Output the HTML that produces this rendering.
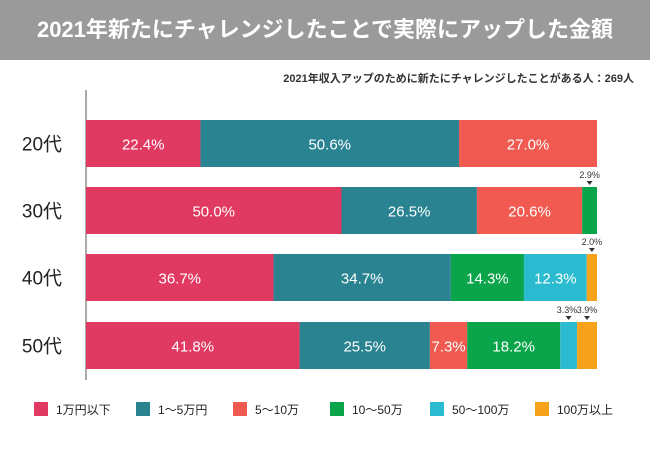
<!DOCTYPE html>
<html><head><meta charset="utf-8"><style>
body{margin:0;width:650px;height:450px;background:#fff;font-family:"Liberation Sans","Noto Sans CJK JP",sans-serif;overflow:hidden}
#hdr{position:absolute;left:0;top:0;width:650px;height:60px;background:#9a9a9a;color:#fff;font-weight:bold;font-size:22px;text-align:center;line-height:60px}
#sub{position:absolute;right:16px;top:70px;font-size:11px;font-weight:bold;color:#333}
</style></head><body>
<div id="hdr">2021年新たにチャレンジしたことで実際にアップした金額</div>
<div id="sub">2021年収入アップのために新たにチャレンジしたことがある人：269人</div>
<svg id="chart" width="650" height="450" style="position:absolute;left:0;top:0"></svg>
<script>
const categories=["20代","30代","40代","50代"];
const seriesNames=["1万円以下","1〜5万円","5〜10万","10〜50万","50〜100万","100万以上"];
const s1=[22.4,50.0,36.7,41.8];
const s2=[50.6,26.5,34.7,25.5];
const s3=[27.0,20.6,0,7.3];
const s4=[0,2.9,14.3,18.2];
const s5=[0,0,12.3,3.3];
const s6=[0,0,2.0,3.9];
const series=[s1,s2,s3,s4,s5,s6];
const colors=["#e03a63","#2a8391","#f05a50","#0aa54a","#2bbbd0","#f7a21b"];
const svg=document.getElementById('chart');const NS="http://www.w3.org/2000/svg";
function mk(t,a,p){const e=document.createElementNS(NS,t);for(const k in a)e.setAttribute(k,a[k]);(p||svg).appendChild(e);return e;}
const x0=86,x1=597;const xs=v=>x0+(x1-x0)*v/100;
const rowTop=[120,187,254,322],bh=47;
const ax=mk('line',{x1:86,y1:90,x2:86,y2:380,stroke:'#555','stroke-width':1});

categories.forEach((c,i)=>{
 const y=rowTop[i];
 const t=mk('text',{x:42,y:y+bh/2+7,'text-anchor':'middle','font-size':19,fill:'#222'});t.textContent=c;
 
 let acc=0;let lastLx=-100;const smalls=[];
 series.forEach((s,j)=>{
  const v=s[i];if(!v){return;}
  const xa=xs(acc),xb=xs(acc+v);acc+=v;
  const r=mk('rect',{x:xa,y:y,width:xb-xa,height:bh,fill:colors[j]});
  
  const lab=v.toFixed(1)+'%';const cx=(xa+xb)/2;
  if(v>=5){const tt=mk('text',{x:cx,y:y+bh/2+6,'text-anchor':'middle','font-size':15,fill:'#fff'});tt.textContent=lab;
   }
  else smalls.push([cx,lab]);
 });
 for(let k=smalls.length-1;k>=0;k--){
  const cx=smalls[k][0];let lx=cx;
  if(k<smalls.length-1&&lastLx-lx<20)lx=lastLx-20;
  lastLx=lx;
  const tt=mk('text',{x:lx,y:y-9,'text-anchor':'middle','font-size':9,fill:'#333'});tt.textContent=smalls[k][1];
  
  const p=mk('polygon',{points:`${cx-3},${y-6} ${cx+3},${y-6} ${cx},${y-2}`,fill:'#333'});
  
 }
});
const lx=[34,136,233,330,430,535];
seriesNames.forEach((n,j)=>{
 const g=mk('g',{});
 mk('rect',{x:lx[j],y:402,width:14,height:14,fill:colors[j]},g);
 const t=mk('text',{x:lx[j]+22,y:414,'font-size':12,fill:'#222'},g);t.textContent=n;
});
</script>
</body></html>
